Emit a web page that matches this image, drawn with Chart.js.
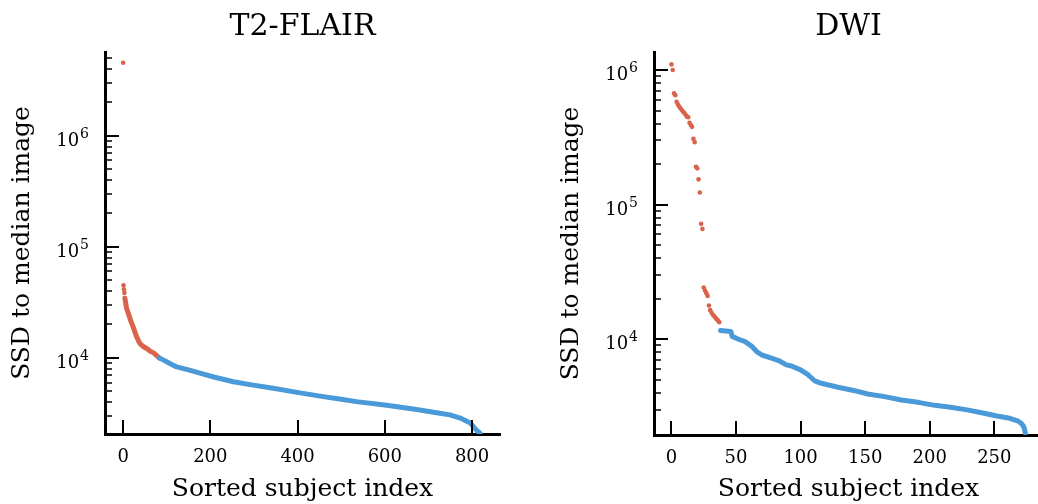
<!DOCTYPE html>
<html>
<head>
<meta charset="utf-8">
<script src="https://cdn.jsdelivr.net/npm/chart.js@4/dist/chart.umd.min.js"></script>
<style>
  html, body { margin: 0; padding: 0; background: #fff; overflow: hidden; width: 1038px; height: 504px; }
  canvas { position: absolute; top: 0; }
  #flair { left: 0; }
  #dwi { left: 549px; }
</style>
</head>
<body>
<canvas id="flair" width="520" height="504"></canvas>
<canvas id="dwi" width="498" height="504"></canvas>
<script>
// ---- T2-FLAIR: SSD to median image, subjects sorted by SSD ----
const flairHeadIdx = [0, 1, 2, 3];
const flairHeadSSD = [4550000, 45000, 41500, 38500];
const flairRedIdx = [4, 8, 16, 24, 31, 37, 40, 47, 55, 62, 70, 77, 83];
const flairRedSSD = [34500, 28000, 22500, 18500, 15500, 13800, 13300, 12600, 12100, 11500, 11100, 10500, 10000];
const flairBlueIdx = [83, 92, 105, 123, 150, 176, 210, 253, 291, 344, 402, 459, 500, 535, 600, 669, 726, 749, 775, 795, 806, 812, 818];
const flairBlueSSD = [10000, 9600, 9000, 8300, 7800, 7300, 6700, 6100, 5750, 5330, 4870, 4480, 4250, 4040, 3770, 3450, 3180, 3070, 2850, 2610, 2330, 2200, 2100];
const flairXTicks = [0, 200, 400, 600, 800];
const flairDecades = [1e4, 1e5, 1e6];

// ---- DWI: SSD to median image, subjects sorted by SSD ----
const dwiRedIdx = [0, 1, 2, 3, 4, 5, 6, 7, 8, 9, 10, 11, 12, 13, 14, 15, 16, 17, 18, 19,
                   20, 21, 22, 23, 24, 25, 26, 27, 28, 29, 30, 31, 32, 33, 34, 35, 36, 37];
const dwiRedSSD = [1100000, 1000000, 670000, 650000, 580000, 555000, 535000, 520000, 505000, 490000,
                   480000, 465000, 450000, 445000, 405000, 390000, 378000, 308000, 291000, 191000,
                   186000, 154000, 123000, 72000, 66000, 24200, 23000, 22000, 21000, 17800,
                   16500, 15800, 15200, 14900, 14500, 14100, 13800, 13400];
const dwiBlueIdx = [38, 46, 47, 52, 57, 62, 66, 70, 78, 83, 89, 93, 100, 106, 111, 116, 129, 142, 152, 165,
                    178, 191, 204, 216, 229, 242, 252, 262, 268, 271, 273, 274];
const dwiBlueSSD = [11600, 11400, 10500, 10000, 9600, 8900, 8100, 7640, 7220, 6950, 6450, 6330, 5920, 5430, 4900, 4710, 4400, 4150, 3920, 3750,
                    3540, 3400, 3230, 3130, 2990, 2820, 2690, 2590, 2480, 2370, 2220, 2010];
const dwiXTicks = [0, 50, 100, 150, 200, 250];
const dwiDecades = [1e4, 1e5, 1e6];

const RED = '#d9634b';
const BLUE = '#4a9ad9';
const SERIF = "'DejaVu Serif', serif";

const pairs = (xs, ys) => xs.map((x, i) => ({ x, y: ys[i] }));

// log-axis tick positions: decades plus 2..9 minor steps inside the range
function logTicks(min, max) {
  const out = [];
  for (let e = Math.floor(Math.log10(min)); e <= Math.ceil(Math.log10(max)); e++) {
    for (let m = 1; m <= 9; m++) {
      const v = m * Math.pow(10, e);
      if (v >= min && v <= max) out.push({ value: v, major: m === 1 });
    }
  }
  return out;
}

// inward tick marks and 10^n labels
const axisDecor = {
  id: 'axisDecor',
  afterDraw(chart, args, opts) {
    const { ctx, chartArea, scales: { x, y } } = chart;
    ctx.save();
    ctx.strokeStyle = '#000';
    ctx.lineCap = 'butt';
    ctx.lineWidth = 2;
    x.ticks.forEach(t => {
      const px = Math.round(x.getPixelForValue(t.value));
      ctx.beginPath();
      ctx.moveTo(px, chartArea.bottom);
      ctx.lineTo(px, chartArea.bottom - 14);
      ctx.stroke();
    });
    y.ticks.forEach(t => {
      const py = Math.round(y.getPixelForValue(t.value));
      if (chartArea.bottom - py < 4) return;
      ctx.lineWidth = t.major ? 2 : 1.5;
      ctx.beginPath();
      ctx.moveTo(chartArea.left, py);
      ctx.lineTo(chartArea.left + (t.major ? 14 : 7), py);
      ctx.stroke();
    });
    ctx.fillStyle = '#000';
    ctx.textBaseline = 'alphabetic';
    ctx.textAlign = 'right';
    opts.decades.forEach(v => {
      const py = y.getPixelForValue(v);
      const exp = String(Math.round(Math.log10(v)));
      const right = chartArea.left - 16;
      ctx.font = '14px ' + SERIF;
      const ew = ctx.measureText(exp).width;
      ctx.fillText(exp, right, py + 2);
      ctx.font = '18px ' + SERIF;
      ctx.fillText('10', right - ew - 1, py + 10);
    });
    ctx.restore();
  }
};

function makeChart(id, cfg) {
  return new Chart(document.getElementById(id), {
    type: 'scatter',
    data: {
      datasets: [
        { data: pairs(cfg.blueIdx, cfg.blueSSD), showLine: true, borderColor: BLUE, borderWidth: 5,
          borderCapStyle: 'round', borderJoinStyle: 'round', pointRadius: 0, tension: 0 },
        ...(cfg.redLineIdx ? [{ data: pairs(cfg.redLineIdx, cfg.redLineSSD), showLine: true, borderColor: RED, borderWidth: 5,
          borderCapStyle: 'round', borderJoinStyle: 'round', pointRadius: 0, tension: 0 }] : []),
        { data: pairs(cfg.redIdx, cfg.redSSD), showLine: false, backgroundColor: RED, borderWidth: 0, pointRadius: 2.3 }
      ]
    },
    options: {
      responsive: false,
      animation: false,
      devicePixelRatio: 1,
      layout: { padding: { left: 0, right: cfg.padRight, top: 0, bottom: 0 } },
      plugins: {
        legend: { display: false },
        tooltip: { enabled: false },
        title: {
          display: true, text: cfg.title, fullSize: false, color: '#000',
          font: { family: SERIF, size: 30, weight: 'normal' },
          padding: { top: 9, bottom: 7 }
        },
        axisDecor: { decades: cfg.decades }
      },
      scales: {
        x: {
          type: 'linear', min: cfg.xMin, max: cfg.xMax,
          afterBuildTicks: s => { s.ticks = cfg.xTicks.map(v => ({ value: v })); },
          afterFit: s => { s.height = cfg.xHeight; },
          grid: { display: false, drawTicks: false },
          border: { display: true, width: 3, color: '#000' },
          ticks: { color: '#000', font: { family: SERIF, size: 18 }, padding: 13, maxRotation: 0,
                   autoSkip: false, callback: v => String(v) },
          title: { display: true, text: 'Sorted subject index', color: '#000',
                   font: { family: SERIF, size: 25 }, padding: { top: 0, bottom: 0 } }
        },
        y: {
          type: 'logarithmic', min: cfg.yMin, max: cfg.yMax,
          afterBuildTicks: s => { s.ticks = logTicks(cfg.yMin, cfg.yMax); },
          afterFit: s => { s.width = 105; },
          grid: { display: false, drawTicks: false },
          border: { display: true, width: 3, color: '#000' },
          ticks: { display: false },
          title: { display: true, text: 'SSD to median image', color: '#000',
                   font: { family: SERIF, size: 25 }, padding: { top: 7, bottom: 0 } }
        }
      }
    },
    plugins: [axisDecor]
  });
}

makeChart('flair', {
  title: 'T2-FLAIR',
  blueIdx: flairBlueIdx, blueSSD: flairBlueSSD,
  redLineIdx: flairRedIdx, redLineSSD: flairRedSSD,
  redIdx: flairHeadIdx, redSSD: flairHeadSSD,
  xTicks: flairXTicks, decades: flairDecades,
  xMin: -41.5, xMax: 864, yMin: 2065, yMax: 5.68e6,
  xHeight: 70, padRight: 20
});

makeChart('dwi', {
  title: 'DWI',
  blueIdx: dwiBlueIdx, blueSSD: dwiBlueSSD,
  redIdx: dwiRedIdx, redSSD: dwiRedSSD,
  xTicks: dwiXTicks, decades: dwiDecades,
  xMin: -13.5, xMax: 287.7, yMin: 1945, yMax: 1.36e6,
  xHeight: 69, padRight: 1
});
</script>
</body>
</html>
